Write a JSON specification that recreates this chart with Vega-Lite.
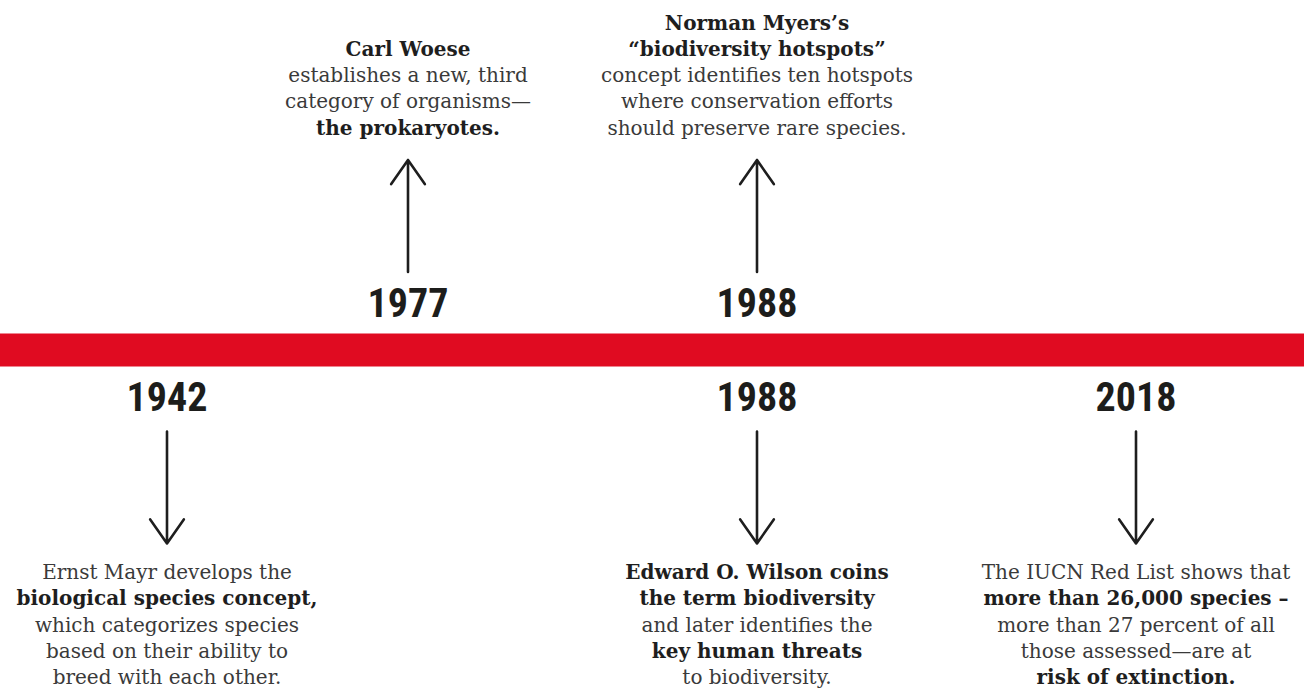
{
  "$schema": "https://vega.github.io/schema/vega-lite/v6.json",
  "width": 1304,
  "height": 688,
  "padding": 0,
  "autosize": {"type": "none"},
  "background": "#ffffff",
  "config": {"view": {"stroke": null}},
  "datasets": {
    "timeline": [{"element": "timeline"}],
    "events": [
      {"year": 1942, "side": "below", "label": "1942"},
      {"year": 1977, "side": "above", "label": "1977"},
      {"year": 1988, "side": "above", "label": "1988"},
      {"year": 1988, "side": "below", "label": "1988"},
      {"year": 2018, "side": "below", "label": "2018"}
    ],
    "captions": [
      {"year": 1977, "row": -4, "text": "Carl Woese", "emphasis": true},
      {"year": 1977, "row": -3, "text": "establishes a new, third", "emphasis": false},
      {"year": 1977, "row": -2, "text": "category of organisms—", "emphasis": false},
      {"year": 1977, "row": -1, "text": "the prokaryotes.", "emphasis": true},
      {"year": 1988, "row": -5, "text": "Norman Myers’s", "emphasis": true},
      {"year": 1988, "row": -4, "text": "“biodiversity hotspots”", "emphasis": true},
      {"year": 1988, "row": -3, "text": "concept identifies ten hotspots", "emphasis": false},
      {"year": 1988, "row": -2, "text": "where conservation efforts", "emphasis": false},
      {"year": 1988, "row": -1, "text": "should preserve rare species.", "emphasis": false},
      {"year": 1942, "row": 1, "text": "Ernst Mayr develops the", "emphasis": false},
      {"year": 1942, "row": 2, "text": "biological species concept,", "emphasis": true},
      {"year": 1942, "row": 3, "text": "which categorizes species", "emphasis": false},
      {"year": 1942, "row": 4, "text": "based on their ability to", "emphasis": false},
      {"year": 1942, "row": 5, "text": "breed with each other.", "emphasis": false},
      {"year": 1988, "row": 1, "text": "Edward O. Wilson coins", "emphasis": true},
      {"year": 1988, "row": 2, "text": "the term biodiversity", "emphasis": true},
      {"year": 1988, "row": 3, "text": "and later identifies the", "emphasis": false},
      {"year": 1988, "row": 4, "text": "key human threats", "emphasis": true},
      {"year": 1988, "row": 5, "text": "to biodiversity.", "emphasis": false},
      {"year": 2018, "row": 1, "text": "The IUCN Red List shows that", "emphasis": false},
      {"year": 2018, "row": 2, "text": "more than 26,000 species –", "emphasis": true},
      {"year": 2018, "row": 3, "text": "more than 27 percent of all", "emphasis": false},
      {"year": 2018, "row": 4, "text": "those assessed—are at", "emphasis": false},
      {"year": 2018, "row": 5, "text": "risk of extinction.", "emphasis": true}
    ]
  },
  "layer": [
    {
      "layer": [
        {
          "data": {"name": "timeline"},
          "mark": {"type": "rule", "strokeWidth": 33, "color": "#e00b21", "strokeCap": "butt"},
          "encoding": {
            "y": {"field": "element", "type": "nominal", "scale": {"type": "point", "domain": ["above", "timeline", "below"], "range": [303, 397], "padding": 0}, "axis": null}
          }
        },
        {
          "data": {"name": "events"},
          "mark": {"type": "text", "font": "Roboto Condensed, Roboto, sans-serif", "fontWeight": "bold", "fontSize": 40, "baseline": "middle", "align": "center", "dy": 2.4, "color": "#1d1d1b"},
          "encoding": {
            "x": {"field": "year", "type": "quantitative", "scale": {"domain": [1942, 1977, 1988, 2018], "range": [167, 408, 757, 1136], "zero": false, "nice": false}, "axis": null},
            "y": {"field": "side", "type": "nominal", "scale": {"type": "point", "domain": ["above", "timeline", "below"], "range": [303, 397], "padding": 0}, "axis": null},
            "text": {"field": "label", "type": "nominal"}
          }
        }
      ]
    },
    {
      "data": {"name": "events"},
      "mark": {"type": "point", "filled": false, "opacity": 1, "stroke": "#1e1e1e", "strokeWidth": 2.6, "strokeCap": "round", "strokeJoin": "round"},
      "encoding": {
        "x": {"field": "year", "type": "quantitative", "scale": {"domain": [1942, 1977, 1988, 2018], "range": [167, 408, 757, 1136], "zero": false, "nice": false}, "axis": null},
        "y": {"field": "side", "type": "nominal", "scale": {"type": "point", "domain": ["above", "below"], "range": [216, 487.5], "padding": 0}, "axis": null},
        "shape": {"field": "side", "type": "nominal", "scale": {"domain": ["above", "below"], "range": ["M0,1L0,-1M-0.3,-0.57L0,-1L0.3,-0.57", "M0,-1L0,1M-0.3,0.57L0,1L0.3,0.57"]}, "legend": null},
        "size": {"value": 12544}
      }
    },
    {
      "data": {"name": "captions"},
      "layer": [
        {
          "transform": [{"filter": "!datum.emphasis"}],
          "mark": {"type": "text", "font": "DejaVu Serif", "fontSize": 20, "baseline": "alphabetic", "align": "center", "color": "#3a3a3a"},
          "encoding": {
            "x": {"field": "year", "type": "quantitative", "scale": {"domain": [1942, 1977, 1988, 2018], "range": [167, 408, 757, 1136], "zero": false, "nice": false}, "axis": null},
            "y": {"field": "row", "type": "quantitative", "scale": {"domain": [-5, -1, 1, 5], "range": [30, 134.5, 579, 684], "zero": false, "nice": false}, "axis": null},
            "text": {"field": "text", "type": "nominal"}
          }
        },
        {
          "transform": [{"filter": "datum.emphasis"}],
          "mark": {"type": "text", "font": "DejaVu Serif", "fontWeight": "bold", "fontSize": 20, "baseline": "alphabetic", "align": "center", "color": "#1e1e1e"},
          "encoding": {
            "x": {"field": "year", "type": "quantitative", "scale": {"domain": [1942, 1977, 1988, 2018], "range": [167, 408, 757, 1136], "zero": false, "nice": false}, "axis": null},
            "y": {"field": "row", "type": "quantitative", "scale": {"domain": [-5, -1, 1, 5], "range": [30, 134.5, 579, 684], "zero": false, "nice": false}, "axis": null},
            "text": {"field": "text", "type": "nominal"}
          }
        }
      ]
    }
  ],
  "resolve": {"scale": {"y": "independent"}}
}
